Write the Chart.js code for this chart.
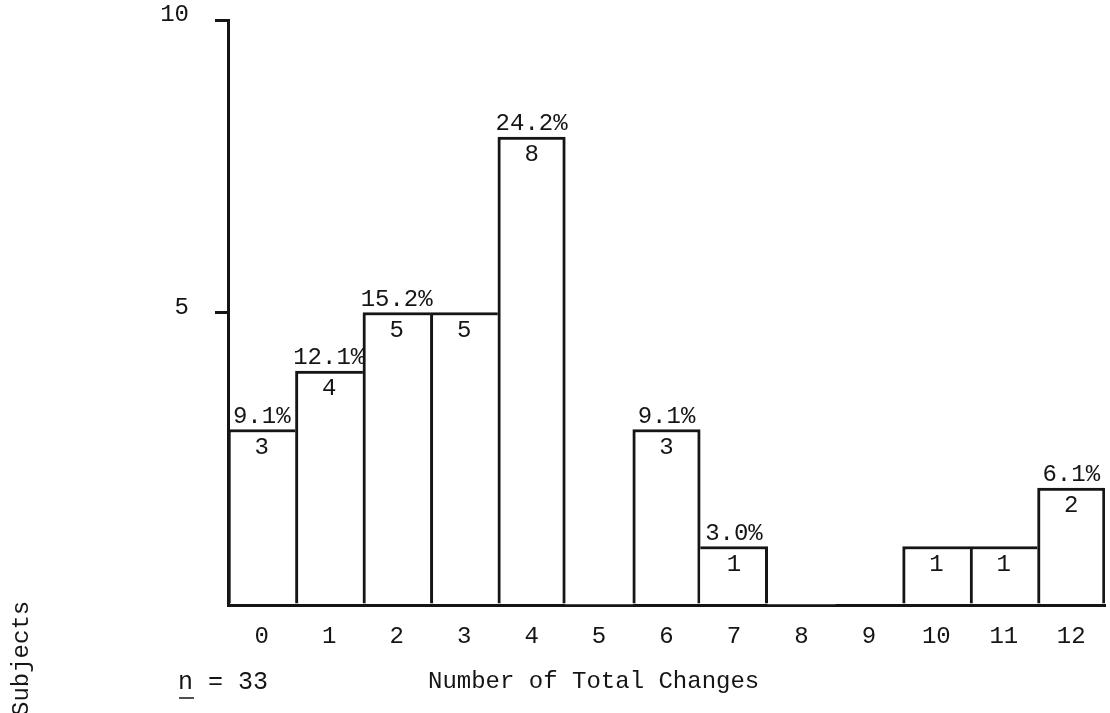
<!DOCTYPE html>
<html>
<head>
<meta charset="utf-8">
<script src="https://cdn.jsdelivr.net/npm/chart.js@4.4.1/dist/chart.umd.min.js"></script>
<style>
  html, body { margin: 0; padding: 0; background: #fff; }
  #wrap { width: 1110px; height: 713px; }
</style>
</head>
<body>
<div id="wrap"><canvas id="hist" width="1110" height="713"></canvas></div>
<script>
// data
const changes = ['0', '1', '2', '3', '4', '5', '6', '7', '8', '9', '10', '11', '12'];
const subjects = [3, 4, 5, 5, 8, 0, 3, 1, 0, 0, 1, 1, 2];
const percents = ['9.1%', '12.1%', '15.2%', null, '24.2%', null, '9.1%', '3.0%', null, null, null, null, '6.1%'];
const yTicks = [5, 10];
const nText = 'n = 33';
const xTitle = 'Number of Total Changes';
const yTitle = 'Subjects';

const INK = '#151515';
const FONT = '"Liberation Mono", "DejaVu Sans Mono", monospace';
const LW = 3;

// shared edges are drawn once, by the taller bar
function edges(ctx) {
  const i = ctx.dataIndex;
  const v = subjects[i];
  const prev = i > 0 ? subjects[i - 1] : 0;
  const next = i < subjects.length - 1 ? subjects[i + 1] : 0;
  return {
    top: LW,
    bottom: 0,
    left: (i === 0 || v >= prev) ? LW : 0,
    right: (i === subjects.length - 1 || v > next) ? LW : 0
  };
}

// count inside the top of each bar, percent above it
const barText = {
  id: 'barText',
  afterDatasetsDraw(chart) {
    const c = chart.ctx;
    const meta = chart.getDatasetMeta(0);
    c.save();
    c.fillStyle = INK;
    c.textAlign = 'center';
    c.textBaseline = 'middle';
    c.font = '24px ' + FONT;
    meta.data.forEach((bar, i) => {
      if (subjects[i] > 0) c.fillText(String(subjects[i]), bar.x, bar.y + 18);
      if (percents[i]) c.fillText(percents[i], bar.x, bar.y - 13);
    });
    c.restore();
  }
};

// n, axis title and the rotated side label
const notes = {
  id: 'notes',
  afterDraw(chart) {
    const c = chart.ctx;
    c.save();
    c.fillStyle = INK;
    c.strokeStyle = INK;
    c.textBaseline = 'middle';
    c.textAlign = 'left';
    c.font = '25px ' + FONT;
    c.fillText(nText, 178, 682);
    const nw = c.measureText('n').width;
    c.lineWidth = 1.5;
    c.beginPath();
    c.moveTo(179, 698);
    c.lineTo(179 + nw, 698);
    c.stroke();
    c.font = '24px ' + FONT;
    c.fillText(xTitle, 428, 682);
    c.translate(22, 716);
    c.rotate(-Math.PI / 2);
    c.font = '24px ' + FONT;
    c.fillText(yTitle, 0, 0);
    c.restore();
  }
};

new Chart(document.getElementById('hist').getContext('2d'), {
  type: 'bar',
  data: {
    labels: changes,
    datasets: [{
      data: subjects,
      backgroundColor: '#ffffff',
      borderColor: INK,
      borderWidth: edges,
      borderSkipped: false,
      barPercentage: 1,
      categoryPercentage: 1
    }]
  },
  options: {
    responsive: false,
    animation: false,
    layout: { padding: { left: 140, top: 20, right: 5, bottom: 0 } },
    plugins: {
      legend: { display: false },
      tooltip: { enabled: false }
    },
    scales: {
      x: {
        grid: { display: false },
        border: { display: true, color: INK, width: LW },
        ticks: {
          color: INK,
          font: { family: FONT, size: 24 },
          padding: 9,
          maxRotation: 0,
          autoSkip: false
        },
        afterFit(scale) {
          scale.height = 108;
          scale.paddingLeft = 0;
          scale.paddingRight = 0;
        }
      },
      y: {
        min: 0,
        max: 10,
        afterBuildTicks(scale) {
          scale.ticks = [0].concat(yTicks).map(v => ({ value: v }));
        },
        grid: {
          drawOnChartArea: false,
          drawTicks: true,
          tickLength: 13,
          lineWidth: LW,
          color: ctx => ctx.tick && ctx.tick.value === 0 ? 'rgba(0,0,0,0)' : INK
        },
        border: { display: true, color: INK, width: LW },
        ticks: {
          color: INK,
          font: { family: FONT, size: 24 },
          padding: 26,
          labelOffset: -5,
          callback: v => (v === 0 ? '' : String(v))
        },
        afterFit(scale) {
          scale.width = 88;
          scale.paddingTop = 0;
          scale.paddingBottom = 0;
        }
      }
    }
  },
  plugins: [barText, notes]
});
</script>
</body>
</html>
